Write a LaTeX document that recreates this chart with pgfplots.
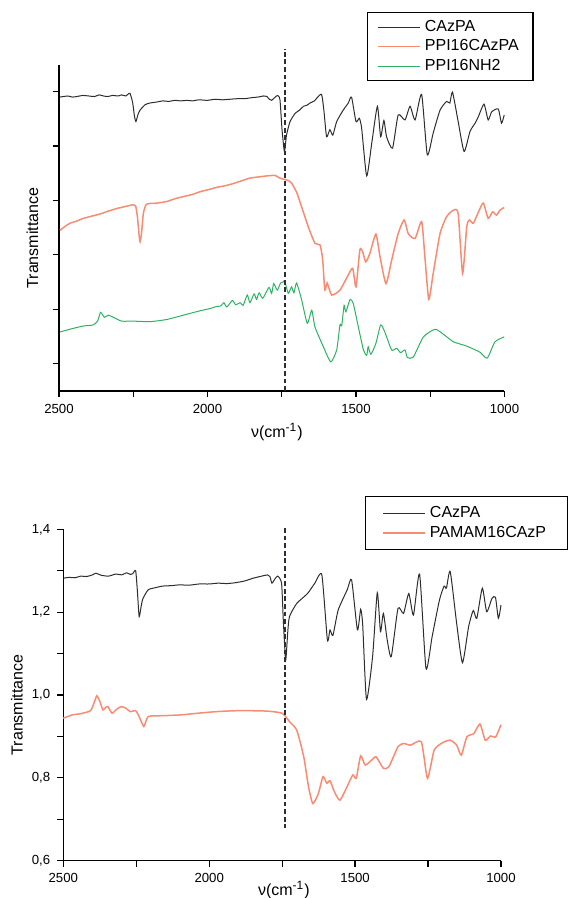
\documentclass[border=0pt]{standalone}
\usepackage{pgfplots}
\pgfplotsset{compat=1.18}
\usepackage{fontspec}
\setmainfont{Liberation Sans}
\definecolor{cblk}{RGB}{45,45,45}
\definecolor{corg}{RGB}{248,140,115}
\definecolor{cgrn}{RGB}{45,178,100}
\definecolor{cdash}{RGB}{45,45,55}
\pgfplotsset{
  ftir/.style={
    scale only axis, clip=false,
    axis x line*=bottom, axis y line*=left,
    axis line style={line width=0.6pt},
    x dir=reverse, xmin=1000, xmax=2500,
    xtick={1000,1500,2000,2500},
    minor xtick={1250,1750,2250},
    tick align=outside,
    major tick length=3pt, minor tick length=3pt,
    every tick/.style={line width=0.6pt, black},
    every minor tick/.style={line width=0.6pt, black},
    tick label style={font=\fontsize{6.6}{7}\selectfont},
    /pgf/number format/assume math mode=true,
    /pgf/number format/use comma,
    /pgf/number format/1000 sep={},
    label style={font=\fontsize{8}{9}\selectfont},
    xlabel={ν(cm\textsuperscript{-1})},
    ylabel={Transmittance},
    legend cell align=left,
    legend image code/.code={\draw[#1] (0pt,0pt) -- (21pt,0pt);},
    legend style={draw=black, line width=0.6pt, anchor=north west,
      font=\fontsize{8}{9}\selectfont,
      inner xsep=5pt, inner ysep=2.4pt, row sep=0pt,
      nodes={inner xsep=2pt, inner ysep=1pt, text height=6pt, text depth=1.8pt}},
  },
  spec/.style={smooth, tension=0.35},
  vdash/.style={cdash, line width=0.85pt, dash pattern=on 2.4pt off 1.4pt, forget plot},
}
\begin{document}
\begin{tikzpicture}
\path[use as bounding box] (0pt,0pt) rectangle (283.5pt,-449pt);
% ---------------- top
\begin{axis}[ftir,
  at={(29.5pt,-195.5pt)}, anchor=south west,
  width=222.75pt, height=163pt,
  ymin=-0.505, ymax=5.49,
  ytick={0,1,2,3,4,5}, yticklabels={},
  xlabel style={at={(rel axis cs:0.489,-0.126)}, anchor=center},
  ylabel style={at={(rel axis cs:-0.0595,0.469)}, anchor=center, rotate=0},
  legend style={at={(rel axis cs:0.691,1.163)}},
]
\addplot[cblk, line width=0.5pt, spec] coordinates {
(2497,4.90) (2485,4.91) (2470,4.92) (2455,4.90) (2440,4.91) (2420,4.93) (2400,4.92) (2380,4.91)
(2365,4.94) (2350,4.92) (2335,4.91) (2320,4.93) (2300,4.92) (2290,4.94) (2275,4.92) (2268,4.95) (2261,4.97)
(2252,4.80) (2246,4.55) (2241,4.45) (2234,4.58) (2227,4.66) (2210,4.76) (2194,4.79) (2170,4.81)
(2150,4.83) (2130,4.82) (2110,4.84) (2090,4.83) (2070,4.84) (2050,4.83) (2030,4.85) (2000,4.84)
(1975,4.86) (1950,4.85) (1925,4.86) (1900,4.87) (1875,4.87) (1850,4.89) (1830,4.90) (1812,4.92)
(1800,4.91) (1792,4.86) (1784,4.84) (1774,4.89) (1764,4.93) (1756,4.85) (1749,4.30) (1741,3.90)
(1734,4.20) (1722,4.45) (1705,4.60) (1690,4.66) (1677,4.73) (1665,4.75) (1655,4.79) (1640,4.83) (1632,4.88) (1616,4.95)
(1608,4.65) (1599,4.17) (1588,4.30) (1578,4.20) (1565,4.45) (1543,4.66) (1526,4.79) (1515,4.90)
(1500,4.45) (1489,4.51) (1481,4.33) (1464,3.45) (1447,4.05) (1428,4.73) (1417,4.17) (1406,4.47)
(1397,4.17) (1377,3.96) (1358,4.57) (1335,4.48) (1318,4.73) (1301,4.48) (1279,4.95) (1260,3.84)
(1240,4.24) (1217,4.66) (1195,4.82) (1184,4.79) (1175,4.99) (1156,4.45) (1136,3.90) (1116,4.27)
(1099,4.42) (1088,4.54) (1069,4.77) (1055,4.48) (1043,4.63) (1021,4.68) (1010,4.42) (1001,4.57)
};
\addlegendentry{CAzPA}
\addplot[corg, line width=0.75pt, spec] coordinates {
(2497,2.45) (2480,2.52) (2463,2.58) (2440,2.62) (2418,2.67) (2390,2.71) (2362,2.75) (2335,2.80)
(2306,2.85) (2275,2.89) (2250,2.92) (2242,2.90) (2236,2.70) (2230,2.35) (2227,2.24) (2222,2.40) (2216,2.76) (2205,2.93)
(2170,2.95) (2137,2.98) (2110,3.03) (2081,3.07) (2050,3.11) (2025,3.16) (1995,3.20) (1969,3.24) (1940,3.27)
(1913,3.31) (1885,3.36) (1857,3.41) (1830,3.43) (1801,3.45) (1773,3.46) (1760,3.42) (1745,3.39) (1730,3.37)
(1717,3.32) (1700,3.15) (1689,2.98) (1661,2.52) (1638,2.21) (1621,2.18) (1612,1.90) (1605,1.35) (1597,1.48)
(1582,1.26) (1554,1.35) (1526,1.63) (1511,1.75) (1500,1.41) (1487,2.09) (1478,2.06) (1467,1.87)
(1453,2.03) (1433,2.38) (1419,1.96) (1399,1.47) (1380,1.90) (1358,2.39) (1338,2.64) (1324,2.39)
(1301,2.30) (1279,2.61) (1268,1.96) (1255,1.18) (1240,1.66) (1217,2.39) (1195,2.70) (1172,2.82)
(1156,2.76) (1141,1.66) (1127,2.52) (1118,2.64) (1105,2.58) (1085,2.82) (1071,2.95) (1055,2.67)
(1040,2.79) (1027,2.73) (1015,2.82) (1001,2.87)
};
\addlegendentry{PPI16CAzPA}
\addplot[cgrn, line width=0.5pt, spec] coordinates {
(2497,0.58) (2457,0.64) (2418,0.69) (2385,0.71) (2370,0.78) (2360,0.94) (2347,0.85) (2334,0.89)
(2317,0.85) (2289,0.78) (2250,0.78) (2194,0.77) (2137,0.81) (2081,0.89) (2025,0.97) (1992,1.01)
(1969,1.05) (1955,1.06) (1945,1.12) (1935,1.04) (1916,1.16) (1905,1.08) (1890,1.12) (1880,1.07)
(1866,1.26) (1857,1.12) (1843,1.28) (1835,1.18) (1826,1.30) (1814,1.20) (1793,1.40) (1784,1.29)
(1777,1.47) (1765,1.35) (1754,1.48) (1745,1.50) (1740,1.52) (1728,1.29) (1717,1.41) (1709,1.30)
(1700,1.48) (1683,1.17) (1664,0.74) (1649,0.98) (1638,0.67) (1610,0.31) (1585,0.03) (1565,0.25)
(1554,0.71) (1548,0.70) (1540,1.07) (1534,0.95) (1520,1.18) (1509,1.10) (1492,0.67) (1475,0.25)
(1464,0.15) (1459,0.31) (1450,0.17) (1433,0.37) (1417,0.71) (1403,0.58) (1380,0.25) (1363,0.28)
(1350,0.20) (1335,0.25) (1327,0.11) (1307,0.12) (1273,0.49) (1234,0.63) (1206,0.54) (1172,0.40)
(1127,0.32) (1083,0.21) (1058,0.10) (1032,0.40) (1001,0.49)
};
\addlegendentry{PPI16NH2}
\addplot[vdash] coordinates {(1740,-0.505) (1740,5.79)};
\end{axis}
% ---------------- bottom
\begin{axis}[ftir,
  at={(31.65pt,-430.35pt)}, anchor=south west,
  width=218.85pt, height=165.7pt,
  ymin=0.6, ymax=1.4,
  ytick={0.6,0.8,1.0,1.2,1.4}, minor ytick={0.7,0.9,1.1,1.3},
  yticklabel style={/pgf/number format/fixed, /pgf/number format/precision=1, /pgf/number format/fixed zerofill},
  xlabel style={at={(rel axis cs:0.504,-0.089)}, anchor=center},
  ylabel style={at={(rel axis cs:-0.106,0.47)}, anchor=center},
  legend style={at={(rel axis cs:0.689,1.100)}, inner xsep=8.5pt, inner ysep=3.4pt},
]
\addplot[cblk, line width=0.5pt, spec] coordinates {
(2500,1.282) (2480,1.284) (2460,1.283) (2440,1.287) (2420,1.286) (2400,1.290) (2388,1.294) (2370,1.289)
(2345,1.287) (2320,1.292) (2300,1.290) (2283,1.295) (2270,1.291) (2262,1.293) (2252,1.300) (2246,1.250)
(2240,1.189) (2233,1.215) (2227,1.233) (2209,1.254) (2185,1.259) (2159,1.263) (2130,1.264) (2100,1.266)
(2070,1.265) (2035,1.268) (2000,1.268) (1970,1.270) (1940,1.269) (1911,1.271) (1880,1.275) (1849,1.282)
(1820,1.287) (1800,1.290) (1792,1.286) (1785,1.270) (1775,1.280) (1765,1.287) (1752,1.270) (1746,1.180) (1738,1.084)
(1731,1.150) (1725,1.189) (1700,1.221) (1663,1.245) (1638,1.270) (1614,1.290) (1595,1.133) (1586,1.157)
(1576,1.144) (1558,1.205) (1527,1.254) (1512,1.278) (1492,1.157) (1481,1.207) (1474,1.170) (1461,0.989)
(1440,1.093) (1424,1.247) (1413,1.153) (1403,1.197) (1390,1.133) (1376,1.093) (1353,1.209)
(1334,1.197) (1316,1.245) (1300,1.193) (1279,1.292) (1257,1.064) (1236,1.141) (1211,1.229)
(1195,1.263) (1187,1.258) (1174,1.298) (1152,1.173) (1132,1.078) (1111,1.165) (1095,1.204) (1083,1.185)
(1064,1.258) (1049,1.201) (1031,1.233) (1019,1.236) (1009,1.185) (1000,1.217)
};
\addlegendentry{CAzPA}
\addplot[corg, line width=0.75pt, spec] coordinates {
(2500,0.944) (2469,0.952) (2440,0.955) (2407,0.962) (2395,0.980) (2385,0.998) (2375,0.985) (2364,0.964) (2355,0.970)
(2347,0.972) (2333,0.956) (2318,0.965) (2302,0.972) (2285,0.968) (2271,0.960) (2252,0.962) (2240,0.948)
(2224,0.924) (2209,0.948) (2160,0.950) (2097,0.952) (2040,0.956) (1973,0.960) (1910,0.962) (1849,0.962)
(1800,0.961) (1750,0.956) (1725,0.936) (1700,0.915) (1676,0.851) (1660,0.780) (1645,0.738) (1626,0.762)
(1610,0.803) (1597,0.787) (1586,0.793) (1570,0.765) (1552,0.746) (1530,0.775) (1508,0.807) (1496,0.799)
(1481,0.853) (1465,0.831) (1440,0.845) (1428,0.851) (1403,0.823) (1384,0.827) (1353,0.875)
(1334,0.883) (1310,0.879) (1273,0.887) (1252,0.799) (1229,0.867) (1200,0.885) (1174,0.891) (1152,0.879)
(1136,0.855) (1117,0.899) (1093,0.907) (1072,0.930) (1054,0.891) (1036,0.901) (1018,0.899) (1000,0.928)
};
\addlegendentry{PAMAM16CAzP}
\addplot[vdash] coordinates {(1740,1.403) (1740,0.679)};
\end{axis}
\end{tikzpicture}
\end{document}
